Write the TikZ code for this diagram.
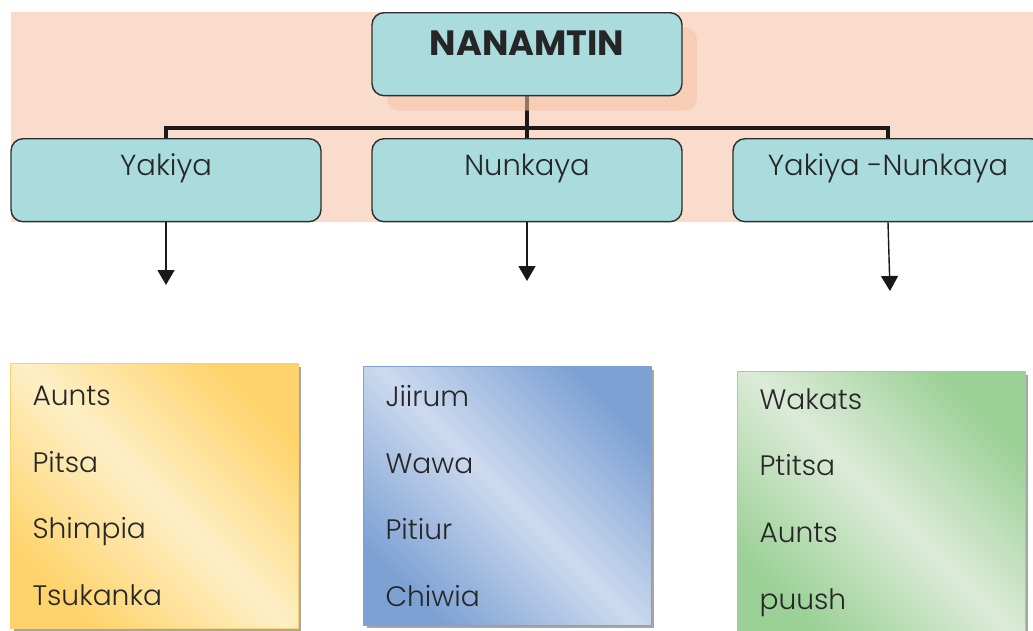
\documentclass[tikz,border=0pt]{standalone}
\usepackage{fontspec}
\setmainfont{Poppins}[UprightFont=* Light, BoldFont=* Bold]
\usetikzlibrary{arrows.meta, shapes, positioning, shadows}

\definecolor{peach}{RGB}{249,220,203}
\definecolor{peachshade}{RGB}{247,193,165}
\definecolor{boxteal}{RGB}{170,220,221}
\definecolor{edge}{RGB}{45,45,45}
\definecolor{ink}{RGB}{38,38,38}
\definecolor{yeldark}{RGB}{255,211,107}
\definecolor{yellight}{RGB}{253,239,198}
\definecolor{bludark}{RGB}{126,161,212}
\definecolor{blulight}{RGB}{204,218,238}
\definecolor{grndark}{RGB}{155,208,150}
\definecolor{grnlight}{RGB}{220,235,215}

\pgfdeclarelayer{background}
\pgfdeclarelayer{links}
\pgfsetlayers{background,links,main}

\begin{document}
\begin{tikzpicture}[x=0.02cm, y=-0.02cm,
    head/.style={draw=edge, line width=0.8pt, fill=boxteal, rounded corners=0.24cm,
        minimum width=6.2cm, inner ysep=0pt, text=ink,
        font=\fontsize{20}{24}\selectfont\bfseries, text height=0.86cm, text depth=0.8cm,
        drop shadow={shadow xshift=0.3cm, shadow yshift=-0.3cm, fill=peachshade, opacity=0.55}},
    branch/.style={draw=edge, line width=0.8pt, fill=boxteal, rounded corners=0.24cm,
        minimum width=6.2cm, inner ysep=0pt, text=ink,
        font=\fontsize{16.5}{20}\selectfont, text height=0.74cm, text depth=0.92cm},
    list/.style={draw=#1dark, line width=0.6pt, top color=#1dark, bottom color=#1dark,
        middle color=#1light, shading angle=-45, text=ink, align=left,
        text width=4.88cm, inner xsep=0.44cm, font=\fontsize{16}{38}\selectfont,
        drop shadow={shadow xshift=0.06cm, shadow yshift=-0.06cm, fill=black, opacity=0.35}},
    link/.style={draw=black!90, line width=2.6pt},
    down/.style={-{Triangle[length=0.3cm, width=0.34cm]}, line width=0.8pt, draw=black!90}]

    \useasboundingbox (0,0) rectangle (1033,630);
    \begin{pgfonlayer}{background}
        \fill[peach] (11,12) rectangle (1033,222);
    \end{pgfonlayer}

    % Nodes
    \node[head, anchor=north] (top) at (527,12) {NANAMTIN};
    \node[branch, anchor=north] (yakiya) at (166,138) {Yakiya};
    \node[branch, anchor=north] (nunkaya) at (527,138) {Nunkaya};
    \node[branch, anchor=north] (yn) at (888,138) {Yakiya -Nunkaya};

    \node[list=yel, anchor=north west, minimum height=5.3cm] (yaklist) at (10,363)
        {Aunts\\Pitsa\\Shimpia\\Tsukanka};
    \node[list=blu, anchor=north west, minimum height=5.18cm] (nunlist) at (363,366)
        {Jiirum\\Wawa\\Pitiur\\Chiwia};
    \node[list=grn, anchor=north west, minimum height=5.24cm] (ynlist) at (737,371)
        {Wakats\\Ptitsa\\Aunts\\puush};

    \coordinate (yakend) at (166,285);
    \coordinate (nunend) at (527,281);
    \coordinate (ynend) at (890,291);

    % Edges
    \begin{pgfonlayer}{links}
        \draw[link] (top.south) -- (nunkaya.north);
        \draw[link] (yakiya.north) -- ++(0,-10) -| (yn.north);
    \end{pgfonlayer}
    \draw[down] (yakiya.south) -- (yakend);
    \draw[down] (nunkaya.south) -- (nunend);
    \draw[down] (yn.south) -- (ynend);
\end{tikzpicture}
\end{document}
